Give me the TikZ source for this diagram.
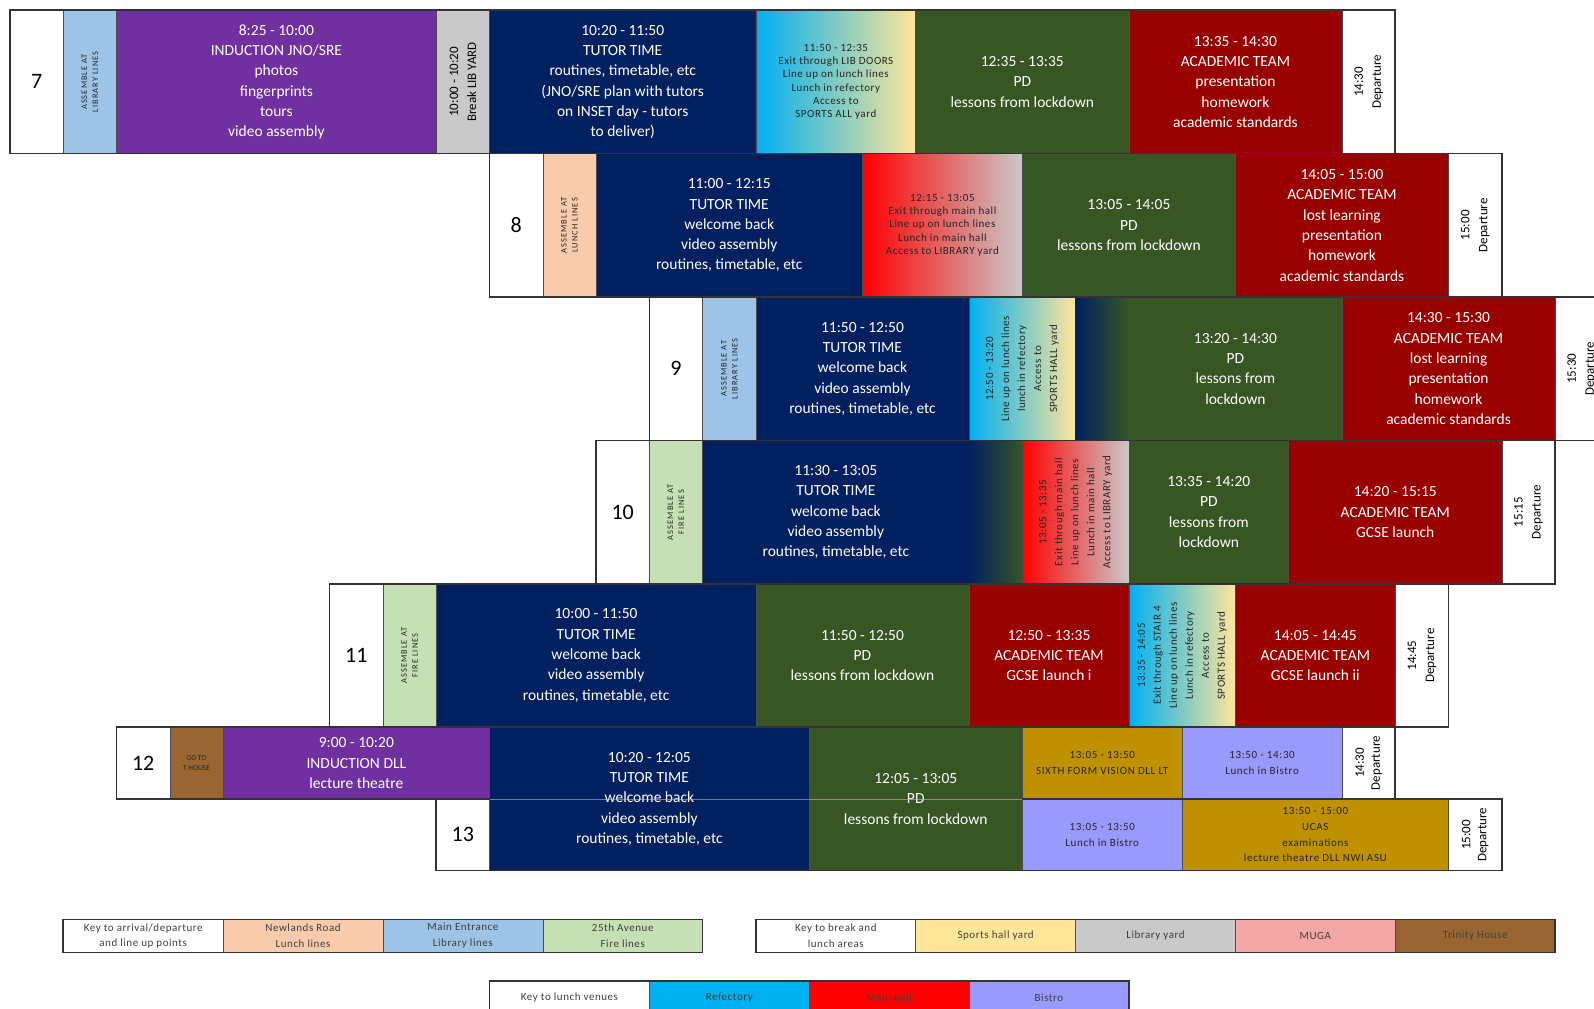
\documentclass[tikz,border=0pt]{standalone}
\usepackage{fontspec}
\setmainfont{Carlito}
\definecolor{tutor}{HTML}{002060}
\definecolor{induct}{HTML}{7030A0}
\definecolor{pdgreen}{HTML}{375623}
\definecolor{acad}{HTML}{990000}
\definecolor{libline}{HTML}{9DC3E6}
\definecolor{lunchline}{HTML}{F8CBAD}
\definecolor{fireline}{HTML}{C5E0B4}
\definecolor{libyard}{HTML}{C9C9C9}
\definecolor{thouse}{HTML}{996633}
\definecolor{sixth}{HTML}{BF9000}
\definecolor{bistro}{HTML}{9999FF}
\definecolor{refect}{HTML}{00B0F0}
\definecolor{mainhall}{HTML}{FF0000}
\definecolor{hallyard}{HTML}{FFE699}
\definecolor{muga}{HTML}{F4A7A7}
\tikzset{
  cell/.style={draw=black!70, line width=0.6pt},
  rowline/.style={draw=black!80, line width=1.6pt},
  big/.style={text=white, align=center, font=\fontsize{15.5}{20.3}\selectfont},
  small/.style={text=black!85, align=center,
    font=\fontsize{11}{13.3}\selectfont\addfontfeature{LetterSpace=5}},
  smallrot/.style={small, rotate=90,
    font=\fontsize{11}{16}\selectfont\addfontfeature{LetterSpace=5}},
  halfsmall/.style={small, font=\fontsize{11}{16}\selectfont\addfontfeature{LetterSpace=6}},
  yr/.style={font=\fontsize{22}{24}\selectfont},
  assem/.style={rotate=90, align=center, text=black!85,
    font=\fontsize{8.5}{11}\selectfont\addfontfeature{LetterSpace=12}},
  depart/.style={rotate=90, align=center, font=\fontsize{13}{18}\selectfont},
  keytext/.style={align=center, text=black!75,
    font=\fontsize{11}{15.5}\selectfont\addfontfeature{LetterSpace=5}},
}
\begin{document}
\begin{tikzpicture}[x=53.28pt, y=-143.4pt]
  \useasboundingbox (-0.1877,-0.0711) rectangle (29.73,6.965);
  \clip (-0.1877,-0.0711) rectangle (29.73,6.965);

  % year 7
  \path[cell, fill=white] (0,0) rectangle node[yr] (n7) {7} (1,1);
  \path[cell, fill=libline] (1,0) rectangle node[assem] (a7) {ASSEMBLE AT\\LIBRARY LINES} (2,1);
  \path[cell, fill=induct] (2,0) rectangle node[big] (ind7) {8:25 - 10:00\\INDUCTION JNO/SRE\\photos\\fingerprints\\tours\\video assembly} (8,1);
  \path[cell, fill=libyard] (8,0) rectangle node[depart] (brk7) {10:00 - 10:20\\Break LIB YARD} (9,1);
  \path[cell, fill=tutor] (9,0) rectangle node[big] (tt7) {10:20 - 11:50\\TUTOR TIME\\routines, timetable, etc\\(JNO/SRE plan with tutors\\on INSET day - tutors\\to deliver)} (14,1);
  \path[cell, left color=refect, right color=hallyard] (14,0) rectangle node[small] (lun7) {11:50 - 12:35\\Exit through LIB DOORS\\Line up on lunch lines\\Lunch in refectory\\Access to\\SPORTS ALL yard} (17,1);
  \path[cell, fill=pdgreen] (17,0) rectangle node[big] (pd7) {12:35 - 13:35\\PD\\lessons from lockdown} (21,1);
  \path[cell, fill=acad] (21,0) rectangle node[big] (ac7) {13:35 - 14:30\\ACADEMIC TEAM\\presentation\\homework\\academic standards} (25,1);
  \path[cell, fill=white] (25,0) rectangle node[depart] (dep7) {14:30\\Departure} (26,1);
  \draw[rowline] (0,0) rectangle (26,1);

  % year 8
  \path[cell, fill=white] (9,1) rectangle node[yr] (n8) {8} (10,2);
  \path[cell, fill=lunchline] (10,1) rectangle node[assem] (a8) {ASSEMBLE AT\\LUNCH LINES} (11,2);
  \path[cell, fill=tutor] (11,1) rectangle node[big] (tt8) {11:00 - 12:15\\TUTOR TIME\\welcome back\\video assembly\\routines, timetable, etc} (16,2);
  \path[cell, left color=mainhall, right color=libyard] (16,1) rectangle node[small] (lun8) {12:15 - 13:05\\Exit through main hall\\Line up on lunch lines\\Lunch in main hall\\Access to LIBRARY yard} (19,2);
  \path[cell, fill=pdgreen] (19,1) rectangle node[big] (pd8) {13:05 - 14:05\\PD\\lessons from lockdown} (23,2);
  \path[cell, fill=acad] (23,1) rectangle node[big] (ac8) {14:05 - 15:00\\ACADEMIC TEAM\\lost learning\\presentation\\homework\\academic standards} (27,2);
  \path[cell, fill=white] (27,1) rectangle node[depart] (dep8) {15:00\\Departure} (28,2);
  \draw[rowline] (9,1) rectangle (28,2);

  % year 9
  \path[cell, fill=white] (12,2) rectangle node[yr] (n9) {9} (13,3);
  \path[cell, fill=libline] (13,2) rectangle node[assem] (a9) {ASSEMBLE AT\\LIBRARY LINES} (14,3);
  \path[cell, fill=tutor] (14,2) rectangle node[big] (tt9) {11:50 - 12:50\\TUTOR TIME\\welcome back\\video assembly\\routines, timetable, etc} (18,3);
  \path[cell, left color=refect, right color=hallyard] (18,2) rectangle node[smallrot] (lun9) {12:50 - 13:20\\Line up on lunch lines\\lunch in refectory\\Access to\\SPORTS HALL yard} (20,3);
  \path[left color=tutor, right color=pdgreen] (20,2) rectangle (21,3);
  \path[fill=pdgreen] (21,2) rectangle node[big] (pd9) {13:20 - 14:30\\PD\\lessons from\\lockdown} (25,3);
  \path[cell, fill=acad] (25,2) rectangle node[big] (ac9) {14:30 - 15:30\\ACADEMIC TEAM\\lost learning\\presentation\\homework\\academic standards} (29,3);
  \path[cell, fill=white] (29,2) rectangle node[depart] (dep9) {15:30\\Departure} (30,3);
  \draw[rowline] (12,2) rectangle (30,3);

  % year 10
  \path[cell, fill=white] (11,3) rectangle node[yr] (n10) {10} (12,4);
  \path[cell, fill=fireline] (12,3) rectangle node[assem] (a10) {ASSEMBLE AT\\FIRE LINES} (13,4);
  \path[cell, fill=tutor] (13,3) rectangle node[big] (tt10) {11:30 - 13:05\\TUTOR TIME\\welcome back\\video assembly\\routines, timetable, etc} (18,4);
  \path[left color=tutor, right color=pdgreen] (18,3) rectangle (19,4);
  \path[cell, left color=mainhall, right color=libyard] (19,3) rectangle node[smallrot] (lun10) {13:05 - 13:35\\Exit through main hall\\Line up on lunch lines\\Lunch in main hall\\Access to LIBRARY yard} (21,4);
  \path[cell, fill=pdgreen] (21,3) rectangle node[big] (pd10) {13:35 - 14:20\\PD\\lessons from\\lockdown} (24,4);
  \path[cell, fill=acad] (24,3) rectangle node[big] (ac10) {14:20 - 15:15\\ACADEMIC TEAM\\GCSE launch} (28,4);
  \path[cell, fill=white] (28,3) rectangle node[depart] (dep10) {15:15\\Departure} (29,4);
  \draw[rowline] (11,3) rectangle (29,4);

  % year 11
  \path[cell, fill=white] (6,4) rectangle node[yr] (n11) {11} (7,5);
  \path[cell, fill=fireline] (7,4) rectangle node[assem] (a11) {ASSEMBLE AT\\FIRE LINES} (8,5);
  \path[cell, fill=tutor] (8,4) rectangle node[big] (tt11) {10:00 - 11:50\\TUTOR TIME\\welcome back\\video assembly\\routines, timetable, etc} (14,5);
  \path[cell, fill=pdgreen] (14,4) rectangle node[big] (pd11) {11:50 - 12:50\\PD\\lessons from lockdown} (18,5);
  \path[cell, fill=acad] (18,4) rectangle node[big] (ac11) {12:50 - 13:35\\ACADEMIC TEAM\\GCSE launch i} (21,5);
  \path[cell, left color=refect, right color=hallyard] (21,4) rectangle node[smallrot] (lun11) {13:35 - 14:05\\Exit through STAIR 4\\Line up on lunch lines\\Lunch in refectory\\Access to\\SPORTS HALL yard} (23,5);
  \path[cell, fill=acad] (23,4) rectangle node[big] (acb11) {14:05 - 14:45\\ACADEMIC TEAM\\GCSE launch ii} (26,5);
  \path[cell, fill=white] (26,4) rectangle node[depart] (dep11) {14:45\\Departure} (27,5);
  \draw[rowline] (6,4) rectangle (27,5);

  % years 12 and 13
  \path[cell, fill=white] (2,5) rectangle node[yr] (n12) {12} (3,5.5);
  \path[cell, fill=thouse] (3,5) rectangle node[small, font=\fontsize{7.5}{10}\selectfont] (a12) {GO TO\\T HOUSE} (4,5.5);
  \path[cell, fill=induct] (4,5) rectangle node[big] (ind12) {9:00 - 10:20\\INDUCTION DLL\\lecture theatre} (9,5.5);
  \path[cell, fill=tutor] (9,5) rectangle node[big] (tt12) {10:20 - 12:05\\TUTOR TIME\\welcome back\\video assembly\\routines, timetable, etc} (15,6);
  \path[cell, fill=pdgreen] (15,5) rectangle node[big] (pd12) {12:05 - 13:05\\PD\\lessons from lockdown} (19,6);
  \draw[white!45!gray, line width=0.5pt, opacity=0.6] (9,5.5) -- (19,5.5);
  \path[cell, fill=sixth] (19,5) rectangle node[halfsmall] (vis12) {13:05 - 13:50\\SIXTH FORM VISION DLL LT} (22,5.5);
  \path[cell, fill=bistro] (22,5) rectangle node[halfsmall] (lun12) {13:50 - 14:30\\Lunch in Bistro} (25,5.5);
  \path[cell, fill=white] (25,5) rectangle node[depart, font=\fontsize{13}{16}\selectfont] (dep12) {14:30\\Departure} (26,5.5);
  \path[cell, fill=white] (8,5.5) rectangle node[yr] (n13) {13} (9,6);
  \path[cell, fill=bistro] (19,5.5) rectangle node[halfsmall] (lun13) {13:05 - 13:50\\Lunch in Bistro} (22,6);
  \path[cell, fill=sixth] (22,5.5) rectangle node[halfsmall, font=\fontsize{11}{15.7}\selectfont\addfontfeature{LetterSpace=6}] (ucas13) {13:50 - 15:00\\UCAS\\examinations\\lecture theatre DLL NWI ASU} (27,6);
  \path[cell, fill=white] (27,5.5) rectangle node[depart, font=\fontsize{13}{16}\selectfont] (dep13) {15:00\\Departure} (28,6);
  \draw[rowline] (2,5) -- (26,5) -- (26,5.5) -- (28,5.5) -- (28,6) -- (8,6) -- (8,5.5) -- (2,5.5) -- cycle;
  \draw[rowline] (2,5.5) -- (9,5.5) (19,5.5) -- (28,5.5);

  % keys
  \path[cell, fill=white] (1,6.34) rectangle node[keytext] (k1) {Key to arrival/departure\\and line up points} (4,6.57);
  \path[cell, fill=lunchline] (4,6.34) rectangle node[keytext] (k1a) {Newlands Road\\Lunch lines} (7,6.57);
  \path[cell, fill=libline] (7,6.34) rectangle node[keytext] (k1b) {Main Entrance\\Library lines} (10,6.57);
  \path[cell, fill=fireline] (10,6.34) rectangle node[keytext] (k1c) {25th Avenue\\Fire lines} (13,6.57);
  \draw[rowline] (1,6.34) rectangle (13,6.57);

  \path[cell, fill=white] (14,6.34) rectangle node[keytext] (k2) {Key to break and\\lunch areas} (17,6.57);
  \path[cell, fill=hallyard] (17,6.34) rectangle node[keytext] (k2a) {Sports hall yard} (20,6.57);
  \path[cell, fill=libyard] (20,6.34) rectangle node[keytext] (k2b) {Library yard} (23,6.57);
  \path[cell, fill=muga] (23,6.34) rectangle node[keytext] (k2c) {MUGA} (26,6.57);
  \path[cell, fill=thouse] (26,6.34) rectangle node[keytext] (k2d) {Trinity House} (29,6.57);
  \draw[rowline] (14,6.34) rectangle (29,6.57);

  \path[cell, fill=white] (9,6.77) rectangle node[keytext] (k3) {Key to lunch venues} (12,7.0);
  \path[cell, fill=refect] (12,6.77) rectangle node[keytext] (k3a) {Refectory} (15,7.0);
  \path[cell, fill=mainhall] (15,6.77) rectangle node[keytext] (k3b) {Main hall} (18,7.0);
  \path[cell, fill=bistro] (18,6.77) rectangle node[keytext] (k3c) {Bistro} (21,7.0);
  \draw[rowline] (9,6.77) rectangle (21,7.0);
\end{tikzpicture}
\end{document}
